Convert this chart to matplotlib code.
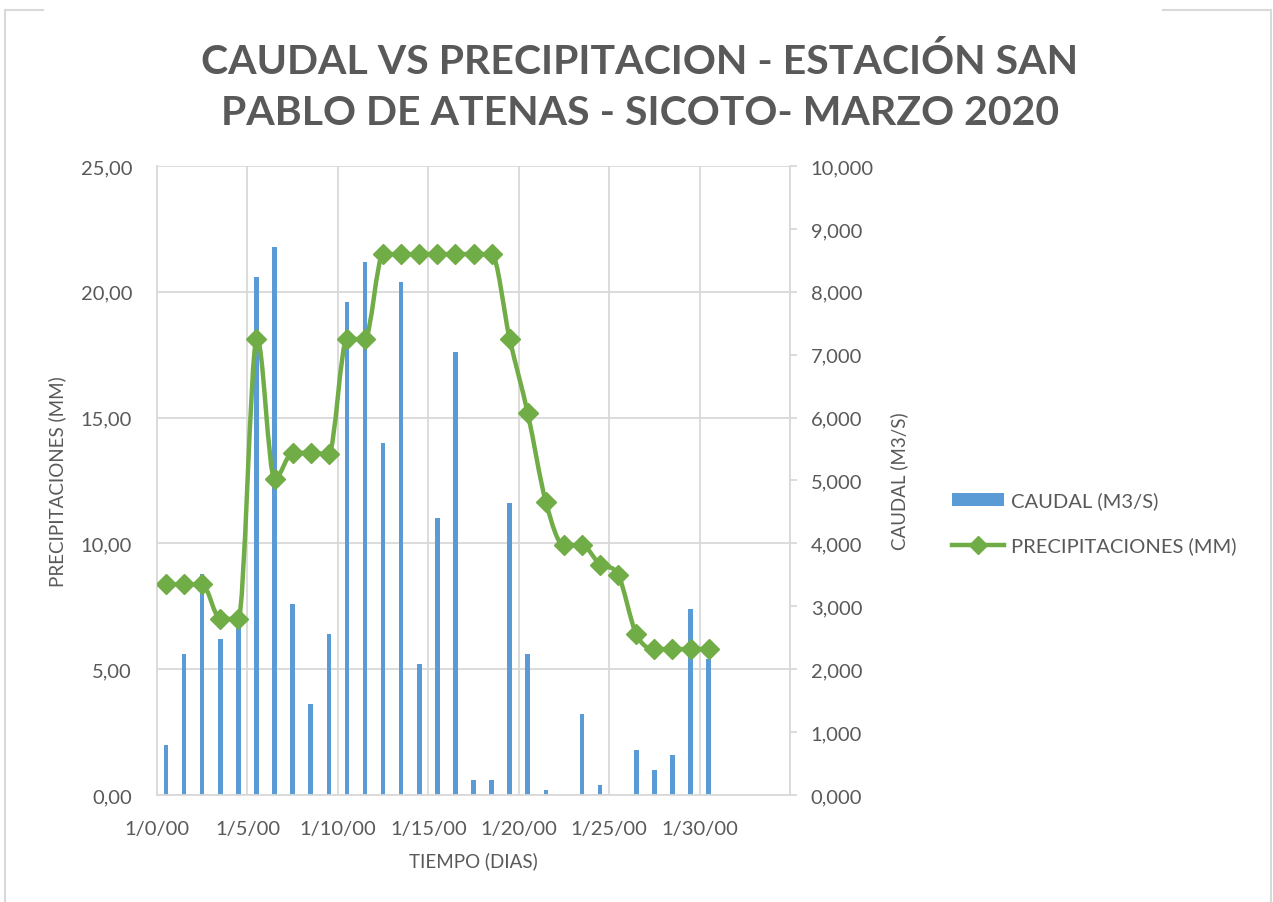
import numpy as np
import matplotlib.pyplot as plt
from matplotlib.path import Path
from matplotlib.patches import PathPatch, Patch
from matplotlib.lines import Line2D

# --- DATOS ---
dias = np.arange(1, 32)
precipitacion = [2.0, 5.6, 8.8, 6.2, 7.0, 20.6, 21.8, 7.6, 3.6, 6.4,
                 19.6, 21.2, 14.0, 20.4, 5.2, 11.0, 17.6, 0.6, 0.6, 11.6,
                 5.6, 0.2, 0.0, 3.2, 0.4, 0.0, 1.8, 1.0, 1.6, 7.4, 5.4]
caudal = [3.35, 3.35, 3.35, 2.80, 2.80, 7.25, 5.02, 5.44, 5.44, 5.42,
          7.25, 7.25, 8.60, 8.60, 8.60, 8.60, 8.60, 8.60, 8.60, 7.25,
          6.07, 4.66, 3.97, 3.97, 3.66, 3.50, 2.56, 2.32, 2.32, 2.32, 2.32]
x_ticks = [0, 5, 10, 15, 20, 25, 30]
x_labels = ['1/0/00', '1/5/00', '1/10/00', '1/15/00', '1/20/00', '1/25/00', '1/30/00']
titulo = ['CAUDAL VS PRECIPITACION - ESTACIÓN SAN',
          'PABLO DE ATENAS - SICOTO- MARZO 2020']

AZUL = '#5B9BD5'
VERDE = '#70AD47'
GRIS = '#595959'
REJILLA = '#D9D9D9'
W, H = 1273, 903

plt.rcParams['font.family'] = ['Lato', 'DejaVu Sans']

fig = plt.figure(figsize=(W / 100, H / 100), dpi=100)
ax = fig.add_axes([157 / W, 1 - 796 / H, (790 - 157) / W, (796 - 167) / H])
ax2 = ax.twinx()

xs = dias - 0.5  # Excel centra los puntos en cada dia

# barras de precipitacion (eje izquierdo)
ax.bar(xs, precipitacion, width=0.25, color=AZUL, zorder=2)
ax.set_xlim(0, 35)
ax.set_ylim(0, 25)
ax.set_yticks(np.arange(0, 26, 5))
ax.set_yticklabels([f'{v:.2f}'.replace('.', ',') for v in np.arange(0, 26, 5)])
ax.set_xticks(x_ticks)
ax.set_xticklabels(x_labels)
ax.set_xticks([35], minor=True)
ax.grid(True, which='both', color=REJILLA, linewidth=1.3, zorder=0)
ax.set_axisbelow(True)
ax.tick_params(axis='both', which='both', length=0, labelsize=14.5, labelcolor=GRIS)
ax.tick_params(axis='x', pad=18)
ax.tick_params(axis='y', pad=18)
ax.set_ylabel('PRECIPITACIONES (MM)', fontsize=13.5, color=GRIS, labelpad=10)
ax.set_xlabel('TIEMPO (DIAS)', fontsize=13.5, color=GRIS, labelpad=10)
for s in ['top', 'right']:
    ax.spines[s].set_visible(False)
for s in ['left', 'bottom']:
    ax.spines[s].set_color(REJILLA)
    ax.spines[s].set_linewidth(1.3)

# linea suavizada del caudal (eje derecho)
# tangentes tipo Catmull-Rom, planas donde la serie cambia de sentido o es constante
y = np.asarray(caudal, dtype=float)
n = len(y)
d = np.diff(y)
m = np.zeros(n)
for k in range(1, n - 1):
    if d[k - 1] * d[k] > 0:
        m[k] = (y[k + 1] - y[k - 1]) / 2
    elif d[k - 1] * d[k] < 0 and abs(d[k - 1]) > 0.5 and abs(d[k]) > 0.5:
        m[k] = (y[k + 1] - y[k - 1]) / 4
verts = [(xs[0], y[0])]
codes = [Path.MOVETO]
for i in range(n - 1):
    verts += [(xs[i] + 1 / 3, y[i] + m[i] / 3),
              (xs[i + 1] - 1 / 3, y[i + 1] - m[i + 1] / 3),
              (xs[i + 1], y[i + 1])]
    codes += [Path.CURVE4] * 3
ax2.add_patch(PathPatch(Path(verts, codes), facecolor='none', edgecolor=VERDE,
                        linewidth=3.2, capstyle='round', joinstyle='round', zorder=3))
ax2.plot(xs, caudal, linestyle='none', marker='D', markersize=10.5, color=VERDE, zorder=4)
ax2.set_ylim(0, 10)
ax2.set_yticks(np.arange(0, 11, 1))
ax2.set_yticklabels([f'{v:.3f}'.replace('.', ',') for v in np.arange(0, 11, 1)])
ax2.tick_params(axis='y', length=5, width=1.3, color=REJILLA, labelsize=14.5,
                labelcolor=GRIS, pad=10)
ax2.set_ylabel('CAUDAL (M3/S)', fontsize=13.5, color=GRIS, labelpad=12)
for s in ['top', 'left', 'bottom']:
    ax2.spines[s].set_visible(False)
ax2.spines['right'].set_color(REJILLA)
ax2.spines['right'].set_linewidth(1.3)

# titulo (dos lineas)
fig.text(639.5 / W, 1 - 74 / H, titulo[0], ha='center', va='baseline', fontsize=29.5,
         fontweight='bold', color=GRIS)
fig.text(640 / W, 1 - 125 / H, titulo[1], ha='center', va='baseline', fontsize=29.5,
         fontweight='bold', color=GRIS)

# leyenda
handles = [Patch(facecolor=AZUL, edgecolor='none'),
           Line2D([], [], color=VERDE, linewidth=3.2, marker='D', markersize=9)]
fig.legend(handles, ['CAUDAL (M3/S)', 'PRECIPITACIONES (MM)'], loc='center left',
           bbox_to_anchor=(934 / W, 1 - 524 / H), frameon=False, fontsize=14.5,
           labelcolor=GRIS, handlelength=2.6, handleheight=0.6, labelspacing=1.35,
           handletextpad=0.3)

# marco del grafico
borde = dict(color=REJILLA, linewidth=1.5, transform=fig.transFigure)
fig.add_artist(Line2D([5 / W, 5 / W], [0, 1 - 11 / H], **borde))
fig.add_artist(Line2D([1271 / W, 1271 / W], [0, 1 - 11 / H], **borde))
fig.add_artist(Line2D([5 / W, 43 / W], [1 - 11 / H] * 2, **borde))
fig.add_artist(Line2D([1163 / W, 1271 / W], [1 - 11 / H] * 2, **borde))

fig.savefig('out.png', dpi=100)
